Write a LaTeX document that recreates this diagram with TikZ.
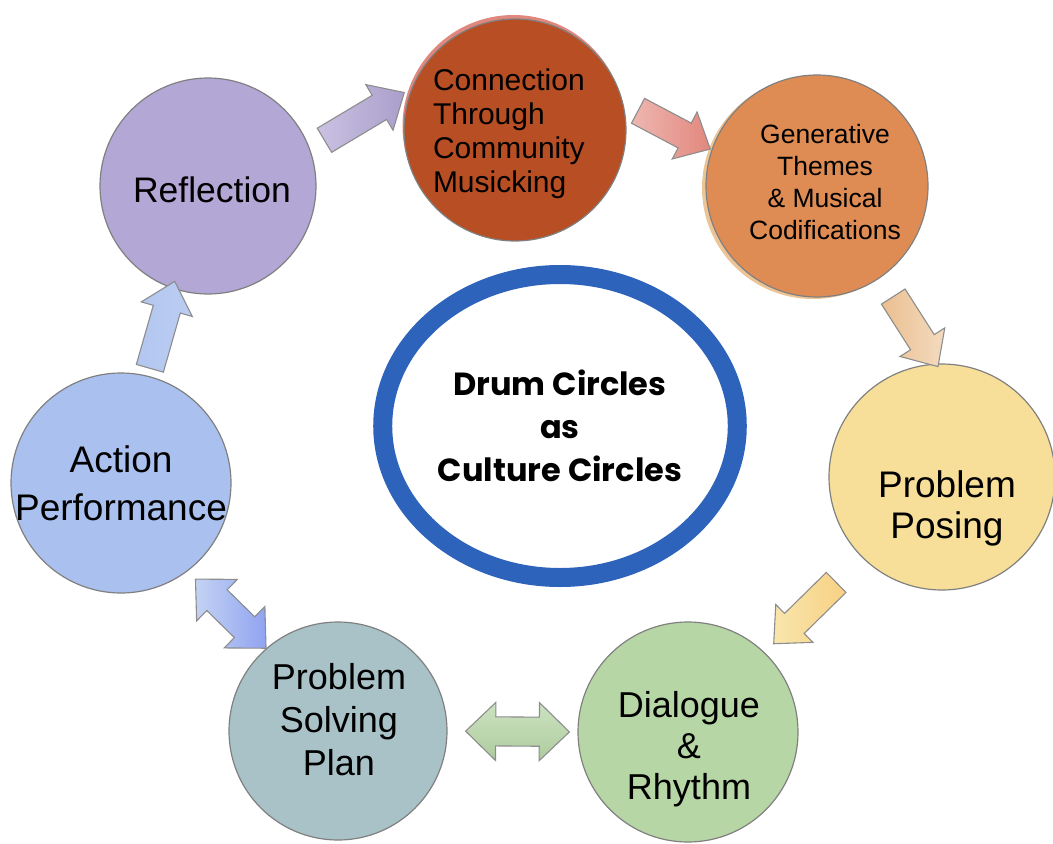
\documentclass[tikz,border=0pt]{standalone}
\usepackage{fontspec}
\setmainfont{Liberation Sans}
\newfontfamily\drumfont{Poppins}
\usetikzlibrary{positioning,calc,shapes.geometric,shapes.arrows,shadows}

\definecolor{reflcol}{RGB}{179,167,214}
\definecolor{conncol}{RGB}{184,78,36}
\definecolor{connrim}{RGB}{226,135,125}
\definecolor{gencol}{RGB}{222,140,84}
\definecolor{genrim}{RGB}{236,196,150}
\definecolor{posecol}{RGB}{247,223,153}
\definecolor{dialcol}{RGB}{183,214,166}
\definecolor{solvecol}{RGB}{168,194,199}
\definecolor{actcol}{RGB}{170,192,238}
\definecolor{ringcol}{RGB}{45,99,186}
\definecolor{rimgray}{RGB}{128,128,128}

\tikzset{
  gapa/.store in=\gapa, gapa=0pt,
  gapb/.store in=\gapb, gapb=0pt,
  stage/.style={circle,draw=rimgray,line width=1.2pt,inner sep=0pt},
  stagetext/.style={align=center,inner sep=0pt},
  blockarrow/.style={single arrow,draw=rimgray!90,line width=1.1pt,inner xsep=0pt,inner ysep=13.5pt,
    single arrow head extend=12.5pt,single arrow tip angle=85},
  twoway/.style={double arrow,inner ysep=14pt,double arrow head extend=14.5pt,
    double arrow tip angle=88},
  flow/.style={to path={
    let \p1=($(\tikztostart)!\gapa!(\tikztotarget)$),
        \p2=($(\tikztotarget)!\gapb!(\tikztostart)$),
        \n1={atan2(\y2-\y1,\x2-\x1)},
        \n2={veclen(\x2-\x1,\y2-\y1)}
    in ($(\p1)!.5!(\p2)$) node[blockarrow,#1,rotate=\n1,minimum height=\n2] {}}}
}

\begin{document}
\begin{tikzpicture}[x=1pt,y=-1pt]
\useasboundingbox (0,0) rectangle (1053,844);
% the seven stages
\node[stage,fill=reflcol,minimum size=216pt] (refl) at (208,186) {};
\node[stage,fill=conncol,minimum size=222pt,
  drop shadow={shadow xshift=-1.5pt,shadow yshift=4pt,fill=connrim,opacity=1}] (conn) at (515,130) {};
\node[stage,fill=gencol,minimum size=222pt,
  drop shadow={shadow xshift=-4pt,shadow yshift=-2pt,fill=genrim,opacity=1}] (gen) at (817,186) {};
\node[stage,fill=posecol,minimum size=226pt] (posing) at (942,477) {};
\node[stage,fill=dialcol,minimum size=220pt] (dial) at (688,732) {};
\node[stage,fill=solvecol,minimum size=218pt] (solving) at (338,731) {};
\node[stage,fill=actcol,minimum size=220pt] (action) at (121,483) {};
%
\node[stagetext,font=\fontsize{35.5}{40}\selectfont] (refl text) at (212,190) {Reflection};
\node[stagetext,align=left,text width=164pt,font=\fontsize{30}{34}\selectfont] (conn text) at (515,134)
  {Connection\\Through\\Community\\Musicking};
\node[stagetext,font=\fontsize{26.5}{32}\selectfont] (gen text) at (825,182)
  {Generative\\Themes\\\& Musical\\Codifications};
\node[stagetext,font=\fontsize{37}{41}\selectfont] (posing text) at (947,508) {Problem\\Posing};
\node[stagetext,font=\fontsize{36}{41}\selectfont] (dial text) at (689,749) {Dialogue\\\&\\Rhythm};
\node[stagetext,font=\fontsize{36}{43}\selectfont] (solving text) at (339,720) {Problem\\Solving\\Plan};
\node[stagetext,font=\fontsize{37}{48}\selectfont] (action text) at (121,483) {Action\\Performance};
% the hub
\node[ellipse,draw=ringcol,line width=19pt,fill=white,minimum width=341pt,minimum height=303pt,
  align=center,font=\drumfont\bfseries\fontsize{32}{43}\selectfont] (drum) at (560,426)
  {Drum Circles\\as\\Culture Circles};
% arrows round the cycle
\path (refl.20) to[flow={left color=reflcol!70!white,right color=reflcol!95!black},gapa=9pt,gapb=16pt] (conn.158);
\path (conn.14) to[flow={left color=connrim!60!white,right color=connrim},gapa=9pt,gapb=9pt] (gen.161);
\path (gen.-55) to[flow={left color=genrim!90!gencol,right color=genrim!60!white},gapa=15pt,gapb=4pt] (posing.93);
\path (posing.225) to[flow={left color=posecol!80!white,right color=posecol!85!orange},gapa=28pt,gapb=20pt] (dial.46);
\path (solving.0) to[flow={twoway,top color=dialcol!70!white,bottom color=dialcol!95!black},gapa=18pt,gapb=8pt] (dial.180);
\path (action.-53) to[flow={twoway,left color=actcol!70!white,right color=actcol!85!blue},gapa=11pt] (solving.131);
\path (action.76) to[flow={left color=actcol!90!white,right color=actcol!80!white}] (refl.251);
\end{tikzpicture}
\end{document}
